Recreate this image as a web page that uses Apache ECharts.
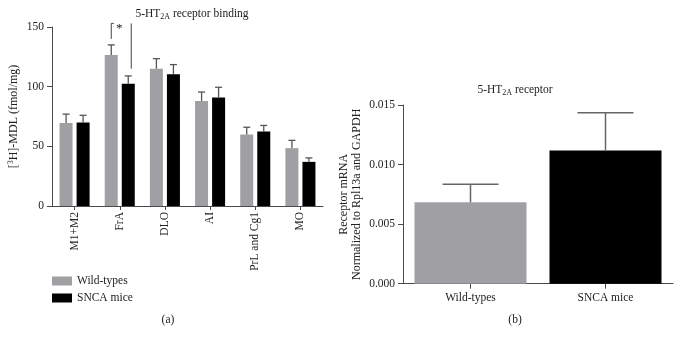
<!DOCTYPE html>
<html><head><meta charset="utf-8">
<script src="https://cdn.jsdelivr.net/npm/echarts@6/dist/echarts.min.js"></script>
<style>html,body{margin:0;padding:0;background:#fff}#c{width:681px;height:340px}</style>
</head><body><div id="c"></div>
<script>
// Panel (a)
const regions = ['M1+M2','FrA','DLO','AI','PrL and Cg1','MO'];
const wtBinding = [69.5, 126.5, 115, 88, 60, 48.5];
const wtBindingErr = [7.5, 8.5, 8.5, 7.5, 6, 6.5];
const sncaBinding = [70, 102.5, 110.5, 91, 62.5, 37];
const sncaBindingErr = [6, 6.5, 8, 8.5, 5, 3.3];
const bindingTicks = [0, 50, 100, 150];
// significance bracket for FrA: [categoryIndex, top, leftEnd, rightEnd]
const sigBracket = [[1, 153, 140, 115]];
// Panel (b)
const groups = ['Wild-types','SNCA mice'];
const mrna = [0.00683, 0.01119];
const mrnaErr = [0.00152, 0.00316];
const mrnaTicks = [0, 0.005, 0.010, 0.015];

const GRAY = '#a0a0a4';
const AX = '#4a4a4a';
const FONT = 'Liberation Serif';
const FS = 11.5;

const chart = echarts.init(document.getElementById('c'), null, {renderer:'canvas'});

function errItem(offset, capHalf, color, lw) {
  return function(params, api) {
    const i = api.value(0), v = api.value(1), e = api.value(2);
    const p0 = api.coord([i, v]);
    const p1 = api.coord([i, v + e]);
    const x = p0[0] + offset;
    return {type:'group', children:[
      {type:'line', shape:{x1:x, y1:p0[1], x2:x, y2:p1[1]}, style:{stroke:color, lineWidth:lw}},
      {type:'line', shape:{x1:x-capHalf, y1:p1[1], x2:x+capHalf, y2:p1[1]}, style:{stroke:color, lineWidth:lw}}
    ]};
  };
}

const axisCommon = {
  axisLine:{show:true, lineStyle:{color:AX, width:1}},
  axisTick:{show:true, length:5, lineStyle:{color:AX}},
  splitLine:{show:false},
  axisLabel:{color:'#222', fontFamily:FONT, fontSize:11}
};
const subRich = {sub:{fontFamily:FONT, fontSize:8, verticalAlign:'bottom', padding:[6,0,0,0], color:'#222'}};

const option = {
  animation:false,
  backgroundColor:'#fff',
  textStyle:{fontFamily:FONT},
  title:[
    {text:'5-HT{sub|2A} receptor binding', left:187, top:2, textAlign:'center',
     textStyle:{fontFamily:FONT, fontSize:FS, fontWeight:'normal', color:'#222', rich:subRich}},
    {text:'5-HT{sub|2A} receptor', left:510, top:78, textAlign:'center',
     textStyle:{fontFamily:FONT, fontSize:FS, fontWeight:'normal', color:'#222', rich:subRich}},
    {text:'(a)', left:163, top:309, textAlign:'center', textStyle:{fontFamily:FONT, fontSize:FS, fontWeight:'normal', color:'#222'}},
    {text:'(b)', left:510, top:309, textAlign:'center', textStyle:{fontFamily:FONT, fontSize:FS, fontWeight:'normal', color:'#222'}}
  ],
  legend:{
    data:['Wild-types','SNCA mice'], orient:'vertical', left:47, top:270,
    itemWidth:20, itemHeight:9, itemGap:5, icon:'rect',
    textStyle:{fontFamily:FONT, fontSize:FS, color:'#222'},
    selectedMode:false
  },
  grid:[
    {left:52, top:27, width:271, height:179},
    {left:403, top:105, width:270, height:178.7}
  ],
  xAxis:[
    Object.assign({}, axisCommon, {type:'category', gridIndex:0, data:regions,
      axisTick:{show:true, alignWithLabel:true, length:4, lineStyle:{color:AX}},
      axisLabel:{color:'#222', fontFamily:FONT, fontSize:FS, rotate:90, margin:6}}),
    Object.assign({}, axisCommon, {type:'category', gridIndex:1, data:groups,
      axisTick:{show:true, alignWithLabel:true, length:5, lineStyle:{color:AX}},
      axisLabel:{color:'#222', fontFamily:FONT, fontSize:FS, margin:8}})
  ],
  yAxis:[
    Object.assign({}, axisCommon, {type:'value', gridIndex:0, min:0, max:150, interval:50,
      name:'[{sup|3}H]-MDL (fmol/mg)', nameLocation:'middle', nameGap:31, nameRotate:90,
      nameTextStyle:{fontFamily:FONT, fontSize:12, color:'#222',
        rich:{sup:{fontFamily:FONT, fontSize:8, verticalAlign:'top', padding:[0,0,6,0], color:'#222'}}},
      axisLabel:{color:'#222', fontFamily:FONT, fontSize:FS, margin:8}}),
    Object.assign({}, axisCommon, {type:'value', gridIndex:1, min:0, max:0.015, interval:0.005,
      name:'Receptor mRNA\nNormalized to Rpl13a and GAPDH', nameLocation:'middle', nameGap:40, nameRotate:90,
      nameTextStyle:{fontFamily:FONT, fontSize:12, color:'#222', lineHeight:13},
      axisLabel:{color:'#222', fontFamily:FONT, fontSize:FS, margin:8,
        formatter:v=>v.toFixed(3)}})
  ],
  series:[
    {name:'Wild-types', type:'bar', xAxisIndex:0, yAxisIndex:0, data:wtBinding,
     barWidth:13, barGap:'31%', itemStyle:{color:GRAY}},
    {name:'SNCA mice', type:'bar', xAxisIndex:0, yAxisIndex:0, data:sncaBinding,
     barWidth:13, itemStyle:{color:'#000'}},
    {type:'custom', xAxisIndex:0, yAxisIndex:0, z:5,
     renderItem:errItem(-8.5, 3.5, '#555', 1.3),
     data:wtBinding.map((v,i)=>[i, v, wtBindingErr[i]])},
    {type:'custom', xAxisIndex:0, yAxisIndex:0, z:5,
     renderItem:errItem(8.5, 3.5, '#555', 1.3),
     data:sncaBinding.map((v,i)=>[i, v, sncaBindingErr[i]])},
    {type:'custom', xAxisIndex:0, yAxisIndex:0, z:6, clip:false,
     renderItem:function(params, api){
       const i = api.value(0);
       const top = api.coord([i, api.value(1)]);
       const lEnd = api.coord([i, api.value(2)]);
       const rEnd = api.coord([i, api.value(3)]);
       const xl = top[0] - 8.5, xr = top[0] + 11.5;
       const s = {stroke:'#444', lineWidth:1};
       return {type:'group', children:[
         {type:'line', shape:{x1:xl, y1:top[1], x2:xl, y2:lEnd[1]}, style:s},
         {type:'line', shape:{x1:xl, y1:top[1], x2:xl+2.5, y2:top[1]}, style:s},
         {type:'line', shape:{x1:xr, y1:top[1], x2:xr, y2:rEnd[1]}, style:s},
         {type:'text', style:{text:'*', x:(xl+xr)/2 - 2, y:top[1] - 1, fill:'#222',
           font:'13px "Liberation Serif"', align:'center', verticalAlign:'top'}}
       ]};
     },
     data:sigBracket},
    {name:'mRNA', type:'bar', xAxisIndex:1, yAxisIndex:1, barWidth:112,
     data:mrna.map((v,i)=>({value:v, itemStyle:{color: i===0 ? GRAY : '#000'}}))},
    {type:'custom', xAxisIndex:1, yAxisIndex:1, z:5,
     renderItem:errItem(0, 28, '#666', 1.5),
     data:mrna.map((v,i)=>[i, v, mrnaErr[i]])}
  ]
};
chart.setOption(option);
</script></body></html>
